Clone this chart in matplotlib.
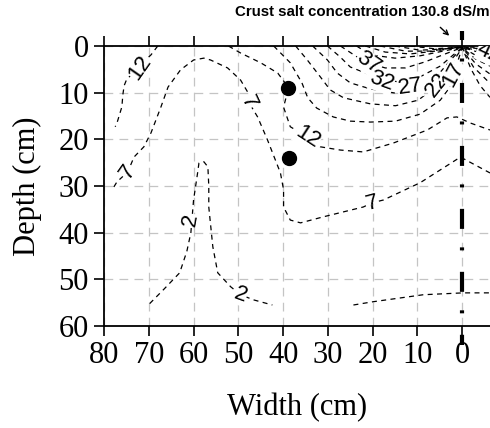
import matplotlib.pyplot as plt

plt.rcParams['font.family'] = 'Liberation Serif'

# axis ticks (cm)
width_ticks = [80, 70, 60, 50, 40, 30, 20, 10, 0]
depth_ticks = [0, 10, 20, 30, 40, 50, 60]

# salt concentration isolines (dS/m), points as (width, depth) in cm
c2_left = [(69.8, 55.2), (66.5, 52.0), (63.1, 48.6), (61.5, 44.0), (60.6, 40.0),
           (60.3, 36.5), (60.0, 33.0), (59.1, 27.2), (58.8, 25.1), (57.7, 24.8),
           (56.8, 25.9), (56.6, 30.0), (56.6, 34.5), (55.7, 43.0), (54.6, 48.6),
           (51.7, 51.6), (49.5, 53.3), (46.6, 54.4), (42.4, 55.5)]
c2_right = [(24.3, 55.5), (19.9, 54.8), (8.7, 53.3), (-0.2, 52.9), (-6.2, 52.9)]
c7 = [(77.8, 30.2), (77.1, 29.1), (74.7, 27.0), (73.3, 23.8), (71.1, 21.6),
      (69.5, 18.6), (67.3, 13.1), (65.7, 8.8), (62.9, 5.1), (60.0, 3.0),
      (57.7, 2.6), (56.2, 3.0), (52.4, 4.7), (49.5, 7.3), (47.9, 9.9),
      (47.7, 12.0), (45.7, 15.2), (43.5, 20.1), (40.6, 27.2), (39.9, 30.8),
      (39.9, 34.5), (38.4, 37.3), (36.1, 37.9), (31.0, 36.6), (22.1, 34.5),
      (20.1, 33.6), (17.6, 33.0), (9.4, 29.3), (0.4, 23.8), (-6.2, 27.2)]
c12_left = [(68.0, 0.0), (69.5, 1.9), (72.2, 4.3), (75.0, 7.3), (75.5, 8.5),
            (75.8, 10.5), (76.0, 13.0), (77.1, 16.5), (77.5, 17.3)]
c12 = [(52.2, 0.0), (49.5, 1.5), (45.0, 3.6), (41.2, 5.8), (39.5, 8.0),
       (39.2, 10.5), (39.9, 13.1), (38.4, 17.3), (34.6, 19.5), (31.7, 21.6),
       (27.2, 22.3), (22.1, 22.7), (15.4, 20.8), (7.8, 18.0), (3.4, 15.4),
       (1.2, 15.2), (-1.8, 16.5), (-6.2, 18.0)]
c17 = [(42.1, 0.0), (38.4, 3.6), (35.8, 7.9), (34.5, 11.1), (32.5, 13.3),
       (28.8, 15.2), (25.0, 16.1), (20.5, 16.3), (14.9, 16.1), (9.4, 14.6),
       (4.9, 11.6), (2.9, 9.0), (1.8, 5.8), (0.7, 2.4), (0.0, 0.4),
       (-2.0, 5.0), (-4.0, 8.5), (-6.2, 11.0)]
c22 = [(37.2, 0.0), (34.6, 3.0), (31.7, 6.6), (29.5, 9.4), (26.5, 11.1),
       (20.5, 12.4), (14.9, 12.8), (9.8, 11.6), (5.6, 8.4), (3.2, 5.1),
       (1.2, 2.1), (0.0, 0.4), (-2.5, 4.5), (-6.2, 8.0)]
c27 = [(33.4, 0.0), (30.1, 3.0), (27.9, 5.8), (25.0, 7.9), (20.5, 9.2),
       (14.9, 10.1), (11.4, 9.4), (8.5, 8.4), (4.9, 5.6), (2.2, 2.6),
       (0.0, 0.4), (-3.0, 3.8), (-6.2, 6.0)]
c32 = [(30.1, 0.0), (27.2, 2.4), (25.0, 4.5), (20.5, 6.2), (17.4, 7.3),
       (13.9, 7.7), (9.4, 6.6), (4.9, 4.3), (2.0, 1.9), (0.0, 0.4),
       (-3.0, 2.8), (-6.2, 4.3)]
c37 = [(27.2, 0.0), (23.4, 2.4), (21.0, 3.6), (17.2, 4.7), (12.7, 4.7),
       (8.3, 3.4), (3.8, 1.7), (0.0, 0.3), (-3.0, 2.0), (-6.2, 3.0)]
c42 = [(23.6, 0.0), (20.5, 1.9), (15.0, 2.6), (9.4, 2.1), (4.3, 1.1),
       (0.0, 0.3), (-3.5, 1.3), (-6.2, 1.9)]
c47 = [(21.6, 0.0), (17.2, 1.3), (11.6, 1.7), (6.1, 1.1), (1.6, 0.4),
       (0.0, 0.3), (-3.5, 0.9), (-6.2, 1.2)]
c52 = [(18.3, 0.0), (12.7, 1.1), (7.2, 1.1), (2.2, 0.4), (0.0, 0.2),
       (-3.0, 0.5), (-6.2, 0.7)]
c57 = [(15.0, 0.0), (9.4, 0.9), (3.8, 0.6), (0.0, 0.2), (-4.0, 0.3)]
c62 = [(11.6, 0.0), (6.1, 0.6), (1.4, 0.3), (0.0, 0.2)]

isolines = [c2_left, c2_right, c7, c12_left, c12, c17, c22, c27,
            c32, c37, c42, c47, c52, c57, c62]

# isoline labels: (text, width, depth, rotation)
isoline_labels = [("12", 72.0, 4.6, 55), ("7", 47.7, 12.0, -65),
                  ("12", 34.6, 19.6, -33), ("7", 74.7, 27.0, 55),
                  ("2", 60.6, 37.3, 80), ("2", 49.5, 53.3, -20),
                  ("7", 20.1, 33.6, 15), ("37", 21.0, 3.6, -35),
                  ("32", 18.0, 7.6, -20), ("27", 11.6, 8.8, 8),
                  ("22", 5.6, 8.3, 52), ("17", 1.9, 6.0, 62),
                  ("42", -6.0, 1.6, -25)]

# sampling points (cm)
sample_x = [39.0, 38.6]
sample_y = [9.0, 24.0]

# dripper position
dripper_x = [0, 0]
dripper_y = [-3.2, 64.0]

fig = plt.figure(figsize=(4.9, 4.28), dpi=100)
ax = fig.add_axes([104 / 490, 1 - 326 / 428, 386 / 490, 280 / 428])

for line in isolines:
    xs, ys = zip(*line)
    ax.plot(xs, ys, color='black', lw=0.9, linestyle=(0, (4, 3.5)), zorder=2)

for text, x, y, rot in isoline_labels:
    ax.text(x, y, text, fontsize=16, family='Liberation Sans', rotation=rot,
            ha='center', va='center', rotation_mode='anchor', zorder=3,
            clip_on=True,
            bbox=dict(fc='white', ec='none', pad=0.1))

ax.plot(sample_x, sample_y, 'o', color='black', ms=10, zorder=4)

ax.plot(dripper_x, dripper_y, color='black', lw=3,
        linestyle=(2.64, (4.8, 4.44, 0.72, 5.15)), solid_capstyle='butt',
        dash_capstyle='butt', clip_on=False, zorder=5)

ax.set_xlim(80, -6.2)
ax.set_ylim(60, 0)
ax.set_xticks(width_ticks)
ax.set_yticks(depth_ticks)
ax.tick_params(axis='x', top=True, bottom=True, direction='out',
               length=7, width=1.2, labelsize=22, pad=4)
ax.tick_params(axis='y', left=True, right=False, direction='out',
               length=7, width=1.2, labelsize=22, pad=4)
ax.spines['right'].set_visible(False)
for side in ['left', 'top', 'bottom']:
    ax.spines[side].set_linewidth(1.3)
ax.grid(True, color='#c4c4c4', lw=0.9, linestyle=(0, (7, 5)))
ax.set_axisbelow(True)

ax.set_xlabel('Width (cm)', fontsize=22, labelpad=16)
ax.set_ylabel('Depth (cm)', fontsize=22, labelpad=12)

fig.text(0.998, 0.972, 'Crust salt concentration 130.8 dS/m', ha='right',
         va='center', fontsize=10.8, fontweight='bold', family='Liberation Sans')
ax.annotate('', xy=(2.9, -2.2), xytext=(4.9, -4.0), annotation_clip=False,
            arrowprops=dict(arrowstyle='->', lw=1, color='black',
                            shrinkA=0, shrinkB=0, mutation_scale=8))

fig.savefig('out.png', dpi=100)
